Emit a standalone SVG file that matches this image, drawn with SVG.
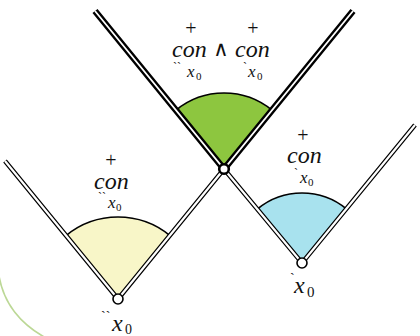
<svg xmlns="http://www.w3.org/2000/svg" width="420" height="336" viewBox="0 0 420 336">
<style>
.bg{fill:#ffffff}
.sec{stroke:#000;stroke-width:1.6}
.thickO{stroke:#000;stroke-width:6.5;fill:none;stroke-linecap:butt}
.thickI{stroke:#fff;stroke-width:1.8;fill:none;stroke-linecap:butt}
.thinO{stroke:#000;stroke-width:4.6;fill:none;stroke-linecap:butt}
.thinI{stroke:#fff;stroke-width:2.2;fill:none;stroke-linecap:butt}
.vtx{fill:#fff;stroke:#000}
.it{font-family:"Liberation Serif","DejaVu Serif",serif;font-style:italic;fill:#111}
.rm{font-family:"Liberation Serif","DejaVu Serif",serif;fill:#111}
</style>
<rect class="bg" x="0" y="0" width="420" height="336"/>
<path d="M -1,276 Q 6,316 46,338" fill="none" stroke="#bcd896" stroke-width="1.6"/>

<g id="cone-top-sector">
<path class="sec" fill="#8dc63f" d="M224,169 L175.8,110.3 A76,76 0 0 1 272.2,110.3 Z"/>
</g>
<g id="cone-left-sector">
<path class="sec" fill="#f8f6c8" d="M118,299 L66,235.6 A82,82 0 0 1 170,235.6 Z"/>
</g>
<g id="cone-right-sector">
<path class="sec" fill="#a8e2ee" d="M302,263 L257.6,208.9 A70,70 0 0 1 346.4,208.9 Z"/>
</g>

<g id="connectors">
<path class="thinO" d="M5,161 L118,299 L224,169 M224,169 L302,263 L415,125"/>
<path class="thinI" d="M5,161 L118,299 L224,169 M224,169 L302,263 L415,125"/>
<path class="thickO" d="M95,11 L224,169 L353,11"/>
<path class="thickI" d="M95,11 L224,169 L353,11"/>
</g>

<g id="vertex-top"><circle class="vtx" cx="224" cy="169" r="4.8" stroke-width="2.6"/></g>
<g id="vertex-left"><circle class="vtx" cx="118" cy="299" r="5" stroke-width="1.6"/></g>
<g id="vertex-right"><circle class="vtx" cx="302" cy="263" r="5" stroke-width="1.6"/></g>

<g id="label-top">
<text class="rm" x="191" y="35" font-size="20" text-anchor="middle">+</text>
<text class="rm" x="253" y="35" font-size="20" text-anchor="middle">+</text>
<text class="it" x="172" y="57" font-size="24">con</text>
<text class="rm" x="221" y="56" font-size="21" text-anchor="middle" font-family="DejaVu Serif, serif">∧</text>
<text class="it" x="235" y="57" font-size="24">con</text>
<text class="rm" x="173" y="71" font-size="12">``</text>
<text class="it" x="187" y="77" font-size="17">x</text>
<text class="rm" x="196" y="80" font-size="11">0</text>
<text class="rm" x="243" y="71" font-size="12">`</text>
<text class="it" x="248" y="77" font-size="17">x</text>
<text class="rm" x="257" y="80" font-size="11">0</text>
</g>

<g id="label-left">
<text class="rm" x="111" y="167" font-size="20" text-anchor="middle">+</text>
<text class="it" x="94" y="189" font-size="24">con</text>
<text class="rm" x="98" y="201" font-size="12">``</text>
<text class="it" x="108" y="208" font-size="17">x</text>
<text class="rm" x="116" y="211" font-size="11">0</text>
</g>

<g id="label-right">
<text class="rm" x="303" y="142" font-size="20" text-anchor="middle">+</text>
<text class="it" x="287" y="163" font-size="24">con</text>
<text class="rm" x="294" y="177" font-size="12">`</text>
<text class="it" x="300" y="183" font-size="17">x</text>
<text class="rm" x="308" y="186" font-size="11">0</text>
</g>

<g id="label-left-vertex">
<text class="rm" x="101" y="321" font-size="14">``</text>
<text class="it" x="112" y="331" font-size="24">x</text>
<text class="rm" x="125" y="334" font-size="14">0</text>
</g>

<g id="label-right-vertex">
<text class="rm" x="290" y="283" font-size="14">`</text>
<text class="it" x="294" y="293" font-size="24">x</text>
<text class="rm" x="307" y="297" font-size="15">0</text>
</g>
</svg>
